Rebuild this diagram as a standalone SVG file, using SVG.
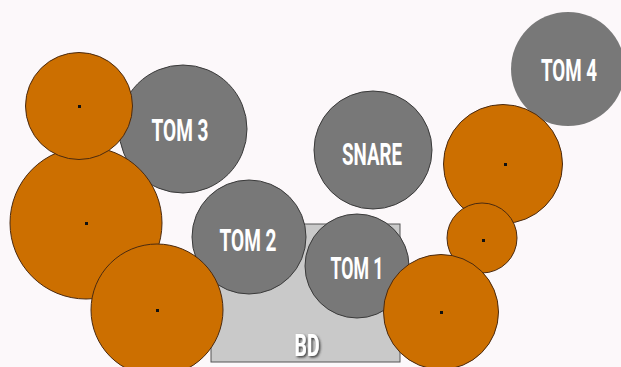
<svg xmlns="http://www.w3.org/2000/svg" width="621" height="367" viewBox="0 0 621 367">
<defs>
<style>
.drum{fill:#787878;stroke:#3a3a3a;stroke-width:1}
.cym{fill:#cc6f00;stroke:#4a2a10;stroke-width:1}
.dot{fill:#111}
.lbl{font-family:Roboto,"Liberation Sans",sans-serif;font-weight:bold;font-size:32px;fill:#ffffff;text-anchor:middle}
</style>
<filter id="sh" x="-30%" y="-30%" width="160%" height="160%">
<feDropShadow dx="1.5" dy="1.5" stdDeviation="1.2" flood-color="#333" flood-opacity="0.9"/>
</filter>
</defs>
<rect width="621" height="367" fill="#fcf8fa"/>
<g id="connectors"/>
<g id="bd">
<rect x="211" y="224" width="189" height="138" fill="#c9c9c9" stroke="#555" stroke-width="1"/>
<text class="lbl" x="307" y="356" textLength="25" lengthAdjust="spacingAndGlyphs" filter="url(#sh)">BD</text>
</g>
<g id="tom3">
<circle class="drum" cx="183" cy="129" r="64"/>
<text class="lbl" x="180" y="141" textLength="57" lengthAdjust="spacingAndGlyphs">TOM 3</text>
</g>
<g id="tom2">
<circle class="drum" cx="249" cy="237" r="57"/>
<text class="lbl" x="248" y="251" textLength="57" lengthAdjust="spacingAndGlyphs">TOM 2</text>
</g>
<g id="snare">
<circle class="drum" cx="373" cy="150" r="59"/>
<text class="lbl" x="372" y="165" textLength="60" lengthAdjust="spacingAndGlyphs">SNARE</text>
</g>
<g id="tom1">
<circle class="drum" cx="357" cy="266" r="52"/>
<text class="lbl" x="357" y="279" textLength="53" lengthAdjust="spacingAndGlyphs">TOM 1</text>
</g>
<g id="tom4">
<circle cx="568" cy="69" r="57" fill="#787878"/>
<text class="lbl" x="569" y="81" textLength="56" lengthAdjust="spacingAndGlyphs">TOM 4</text>
</g>
<g id="cymbal-left-big">
<circle class="cym" cx="86" cy="223" r="76"/>
<rect class="dot" x="85" y="222" width="3" height="3"/>
</g>
<g id="cymbal-top-left">
<circle class="cym" cx="79" cy="106" r="53.5"/>
<rect class="dot" x="78" y="105" width="3" height="3"/>
</g>
<g id="cymbal-bottom-left">
<circle class="cym" cx="157" cy="310" r="66"/>
<rect class="dot" x="156" y="309" width="3" height="3"/>
</g>
<g id="cymbal-right-mid">
<circle class="cym" cx="503" cy="164" r="59.5"/>
<rect class="dot" x="504" y="163" width="3" height="3"/>
</g>
<g id="cymbal-right-small">
<circle class="cym" cx="482" cy="238" r="35"/>
<rect class="dot" x="482" y="239" width="3" height="3"/>
</g>
<g id="cymbal-bottom-right">
<circle class="cym" cx="441" cy="312" r="57.5"/>
<rect class="dot" x="440" y="311" width="3" height="3"/>
</g>
</svg>
